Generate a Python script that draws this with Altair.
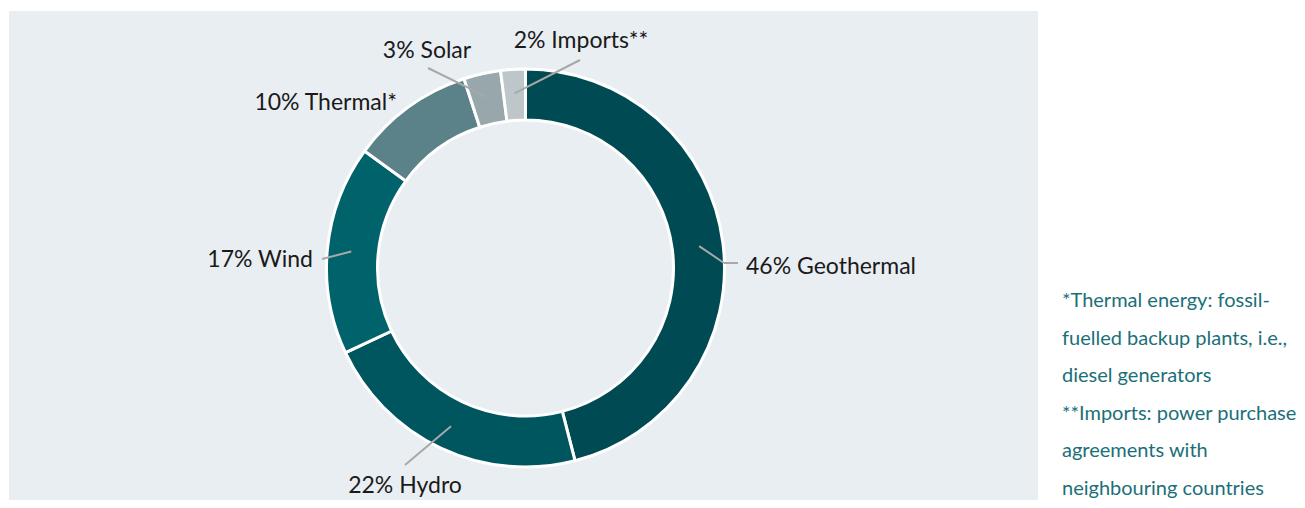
import altair as alt
import pandas as pd

# ---- data ----
categories = ["Geothermal", "Hydro", "Wind", "Thermal*", "Solar", "Imports**"]
shares = [46, 22, 17, 10, 3, 2]
colors = ["#004a54", "#00565f", "#00636c", "#5b8288", "#97a7ac", "#bdc6c9"]

footnote_lines = [
    "*Thermal energy: fossil-",
    "fuelled backup plants, i.e.,",
    "diesel generators",
    "**Imports: power purchase",
    "agreements with",
    "neighbouring countries",
]

# ---- layout (pixel offsets relative to donut centre) ----
CX, CY = 517.5, 260.0
R_OUT, R_IN, R_LEAD = 199, 148, 175
label_dx = [220.5, -120.5, -212.5, -128.5, -98.5, 55.5]
label_dy = [6, 224.7, -0.7, -158, -209.7, -219.7]
label_align = ["left", "center", "right", "right", "center", "center"]
elbow_dx = [198.5, -120.5, -203.5, None, -97.5, 54.5]
elbow_dy = [-5, 197, -9, None, -200, -208]
end_dx = [212.5, -120.5, -203.5, None, -97.5, 54.5]
end_dy = [-5, 197, -9, None, -200, -208]

FONT = "Lato"

df = pd.DataFrame({
    "category": categories,
    "share": shares,
    "order": list(range(len(categories))),
    "label": [f"{s}% {c}" for s, c in zip(shares, categories)],
    "lx": [CX + d for d in label_dx],
    "ly": [CY + d for d in label_dy],
    "align": label_align,
    "ex1": [CX + d if d is not None else None for d in elbow_dx],
    "ey1": [CY + d if d is not None else None for d in elbow_dy],
    "ex2": [CX + d if d is not None else None for d in end_dx],
    "ey2": [CY + d if d is not None else None for d in end_dy],
})

base = alt.Chart(df)

panel = alt.Chart(pd.DataFrame({"a": [0]})).mark_rect(color="#e9eef2").encode(
    x=alt.value(1), x2=alt.value(1030), y=alt.value(3), y2=alt.value(520)
)

arcs = base.mark_arc(radius=R_OUT, radius2=R_IN, stroke="white", strokeWidth=3).encode(
    theta=alt.Theta("share:Q", stack=True),
    order=alt.Order("order:Q", sort="ascending"),
    color=alt.Color("category:N", scale=alt.Scale(domain=categories, range=colors), legend=None),
    x=alt.value(CX),
    y=alt.value(CY),
)

# cumulative shares give each slice's mid angle; leader lines start there
leader_base = base.transform_window(
    cum="sum(share)", sort=[alt.SortField("order")], frame=[None, 0]
).transform_joinaggregate(total="sum(share)").transform_calculate(
    mid="(datum.cum - datum.share / 2) / datum.total * 2 * PI",
).transform_calculate(
    sx=f"{CX} + {R_LEAD} * sin(datum.mid)",
    sy=f"{CY} - {R_LEAD} * cos(datum.mid)",
).transform_filter("datum.ex1 != null")

lead1 = leader_base.mark_rule(color="#a8a8a8", strokeWidth=2).encode(
    x=alt.X("sx:Q", scale=None), y=alt.Y("sy:Q", scale=None),
    x2="ex1:Q", y2="ey1:Q",
)
lead2 = leader_base.mark_rule(color="#a8a8a8", strokeWidth=2).encode(
    x=alt.X("ex1:Q", scale=None), y=alt.Y("ey1:Q", scale=None),
    x2="ex2:Q", y2="ey2:Q",
)

def label_layer(al):
    return base.transform_filter(f"datum.align == '{al}'").mark_text(
        font=FONT, fontSize=23, color="#1a1a1a", align=al, baseline="alphabetic"
    ).encode(
        x=alt.X("lx:Q", scale=None), y=alt.Y("ly:Q", scale=None), text="label:N"
    )

labels = label_layer("left") + label_layer("center") + label_layer("right")

fn = pd.DataFrame({"line": footnote_lines, "i": list(range(len(footnote_lines)))})
foot = alt.Chart(fn).transform_calculate(
    fy="299 + datum.i * 37.5"
).mark_text(
    font=FONT, fontSize=20, color="#1b6f78", align="left", baseline="alphabetic"
).encode(
    x=alt.value(1054), y=alt.Y("fy:Q", scale=None), text="line:N"
)

chart = alt.layer(panel, arcs, lead1, lead2, labels, foot).properties(
    width=1289, height=492,
    autosize=alt.AutoSizeParams(type="none"),
    padding=0,
    view=alt.ViewBackground(stroke="transparent", strokeWidth=0),
).configure_view(strokeWidth=0, stroke="transparent").configure(background="white")

chart.save("out.html", embed_options={"renderer": "svg", "actions": False})
